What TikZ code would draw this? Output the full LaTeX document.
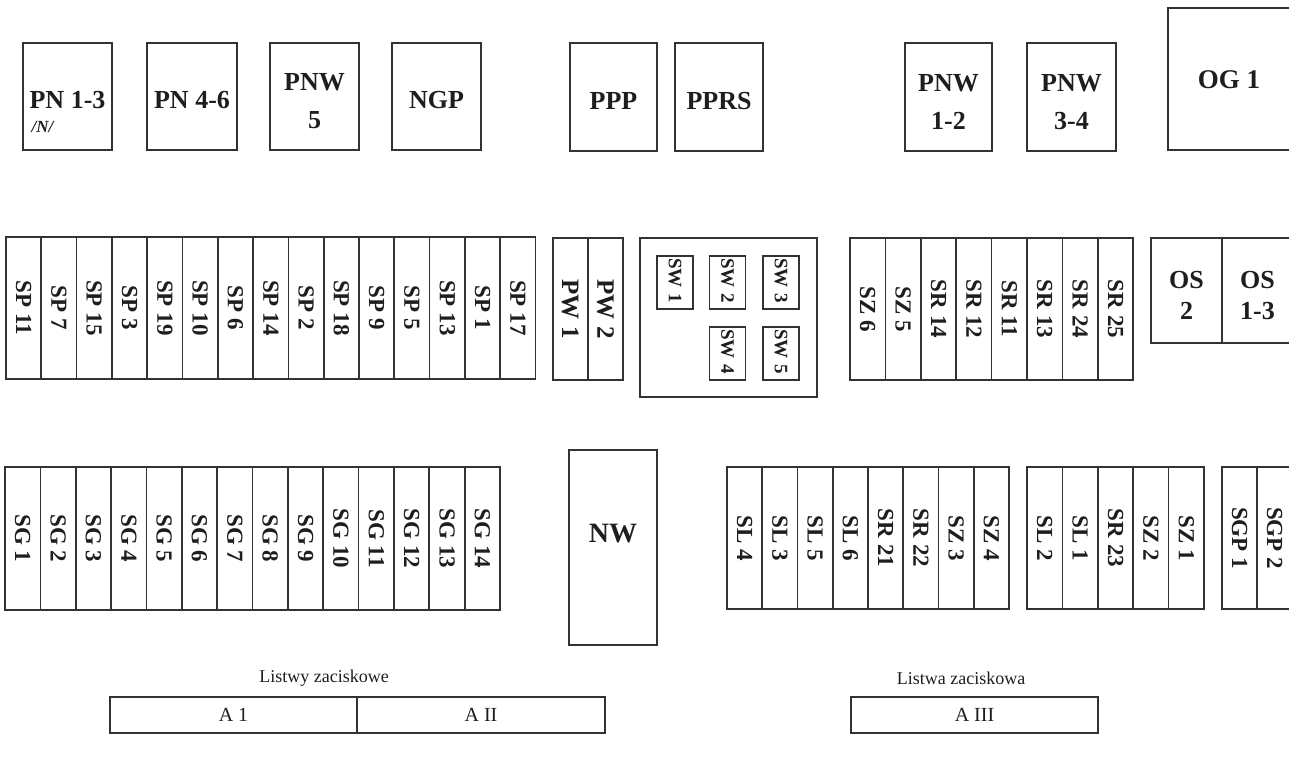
\documentclass[tikz,border=0pt]{standalone}
\usepackage{fontspec}
\setmainfont{Liberation Serif}
\definecolor{lc}{HTML}{333333}
\definecolor{tc}{HTML}{1E1E1E}
\newcommand\mystrut[1]{\rule{0pt}{#1}}
\begin{document}
\begin{tikzpicture}[x=1pt,y=-1pt,line width=1.7pt,
  box/.style={draw=lc,text=tc,inner sep=0pt,align=center,font=\bfseries\fontsize{26}{38}\selectfont},
  vcell/.style={draw=lc,text=tc,rotate=-90,inner sep=0pt,font=\bfseries\fontsize{23}{23}\selectfont},
  swcell/.style={draw=lc,text=tc,rotate=-90,inner xsep=2pt,inner ysep=0pt,text width=49pt,align=left,
     minimum height=36pt,font=\bfseries\fontsize{19}{19}\selectfont},
  plain/.style={text=tc,inner sep=0pt,font=\fontsize{18}{18}\selectfont},
  bar/.style={draw=lc,text=tc,inner sep=0pt,minimum height=36pt,font=\fontsize{20}{20}\selectfont}]
\useasboundingbox (0,0) rectangle (1289,766);
\clip (0,0) rectangle (1289,766);
\fill[white] (0,0) rectangle (1289,766);

% top row
\node[box,minimum width=89pt,minimum height=107pt] (pn13) at (67.5,96.5) {\mystrut{25pt}PN 1-3};
\node[text=tc,inner sep=0pt,font=\bfseries\itshape\fontsize{17}{17}\selectfont] (pn13n) at (42.5,127) {/N/};
\node[box,minimum width=90pt,minimum height=107pt] (pn46) at (192,96.5) {\mystrut{25pt}PN 4-6};
\node[box,minimum width=89pt,minimum height=107pt] (pnw5) at (314.5,96.5) {\mystrut{27pt}PNW\\5};
\node[box,minimum width=89pt,minimum height=107pt] (ngp) at (436.5,96.5) {\mystrut{25pt}NGP};
\node[box,minimum width=87pt,minimum height=108pt] (ppp) at (613.5,97) {\mystrut{25pt}PPP};
\node[box,minimum width=88pt,minimum height=108pt] (pprs) at (719,97) {\mystrut{25pt}PPRS};
\node[box,minimum width=87pt,minimum height=108pt] (pnw12) at (948.5,97) {\mystrut{27pt}PNW\\1-2};
\node[box,minimum width=89pt,minimum height=108pt] (pnw34) at (1071.5,97) {\mystrut{27pt}PNW\\3-4};
\node[box,minimum width=122pt,minimum height=142pt,font=\bfseries\fontsize{27}{27}\selectfont] (og1) at (1229,79) {\mystrut{20pt}OG 1};

% middle row
\foreach \t [count=\i] in {SP 11,SP 7,SP 15,SP 3,SP 19,SP 10,SP 6,SP 14,SP 2,SP 18,SP 9,SP 5,SP 13,SP 1,SP 17}
  \node[vcell,minimum width=142pt,minimum height=35.3pt] (sp\i) at ({6+35.3*(\i-0.5)},308) {\t};
\foreach \t [count=\i] in {PW 1,PW 2}
  \node[vcell,minimum width=142pt,minimum height=35.2pt,font=\bfseries\fontsize{25}{25}\selectfont] (pw\i) at ({552.7+35.2*(\i-0.5)},309) {\t};
\node[draw=lc,minimum width=177pt,minimum height=159pt,inner sep=0pt] (swbox) at (728.5,317.5) {};
\node[swcell] (sw1) at (675,282.5) {SW 1};
\node[swcell] (sw2) at (727.5,282.5) {SW 2};
\node[swcell] (sw3) at (781,282.5) {SW 3};
\node[swcell] (sw4) at (727.5,353.5) {SW 4};
\node[swcell] (sw5) at (781,353.5) {SW 5};
\foreach \t [count=\i] in {SZ 6,SZ 5,SR 14,SR 12,SR 11,SR 13,SR 24,SR 25}
  \node[vcell,minimum width=142pt,minimum height=35.4pt] (sz\i) at ({850+35.4*(\i-0.5)},309) {\t};
\node[box,minimum width=71pt,minimum height=105pt,font=\bfseries\fontsize{26}{31}\selectfont] (os2) at (1186.5,290.5) {\mystrut{27pt}OS\\2};
\node[box,minimum width=71pt,minimum height=105pt,font=\bfseries\fontsize{26}{31}\selectfont] (os13) at (1257.5,290.5) {\mystrut{27pt}OS\\1-3};

% bottom row
\foreach \t [count=\i] in {SG 1,SG 2,SG 3,SG 4,SG 5,SG 6,SG 7,SG 8,SG 9,SG 10,SG 11,SG 12,SG 13,SG 14}
  \node[vcell,minimum width=143pt,minimum height=35.36pt] (sg\i) at ({5+35.36*(\i-0.5)},538.5) {\t};
\node[draw=lc,text=tc,inner sep=0pt,minimum width=88pt,minimum height=195pt,text depth=28pt,font=\bfseries\fontsize{28}{28}\selectfont] (nw) at (613,547.5) {NW};
\foreach \t [count=\i] in {SL 4,SL 3,SL 5,SL 6,SR 21,SR 22,SZ 3,SZ 4}
  \node[vcell,minimum width=142pt,minimum height=35.25pt] (sl\i) at ({727+35.25*(\i-0.5)},538) {\t};
\foreach \t [count=\i] in {SL 2,SL 1,SR 23,SZ 2,SZ 1}
  \node[vcell,minimum width=142pt,minimum height=35.4pt] (sm\i) at ({1027+35.4*(\i-0.5)},538) {\t};
\foreach \t [count=\i] in {SGP 1,SGP 2}
  \node[vcell,minimum width=142pt,minimum height=35pt] (sgp\i) at ({1222+35*(\i-0.5)},538) {\t};

% terminal strips
\node[plain] (lz1) at (324,678) {Listwy zaciskowe};
\node[bar,minimum width=247pt] (a1) at (233.5,715) {A 1};
\node[bar,minimum width=248pt] (a2) at (481,715) {A II};
\node[plain] (lz2) at (961,678) {Listwa zaciskowa};
\node[bar,minimum width=247pt] (a3) at (974.5,715) {A III};
\end{tikzpicture}
\end{document}
